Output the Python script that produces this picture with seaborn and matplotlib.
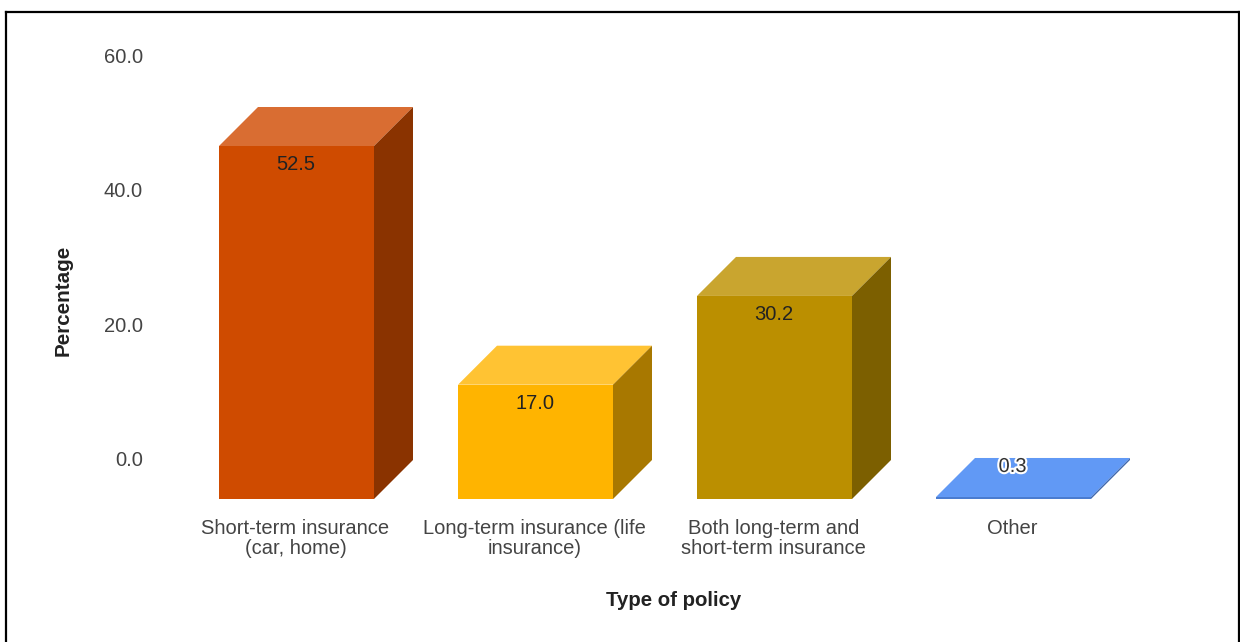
import matplotlib
matplotlib.use("Agg")
import matplotlib.pyplot as plt
import matplotlib.patheffects as pe
from matplotlib.lines import Line2D
from matplotlib.patches import Polygon
from matplotlib.transforms import ScaledTranslation
import pandas as pd
import seaborn as sns

categories = ["Short-term insurance\n(car, home)", "Long-term insurance (life\ninsurance)",
              "Both long-term and\nshort-term insurance", "Other"]
values = [52.5, 17.0, 30.2, 0.3]
value_labels = ["52.5", "17.0", "30.2", "0.3"]
front_colors = ["#CF4B00", "#FFB400", "#BB8F00", "#4A7CD0"]
top_colors = ["#D96D32", "#FFC333", "#C9A52F", "#6199F5"]
side_colors = ["#8A3300", "#A87800", "#7C5F00", "#3F68AE"]
y_ticks = [0, 20, 40, 60]

W, H = 1240, 642
FONT = "Liberation Sans"
FS = 14.5
plt.rcParams["font.family"] = [FONT, "DejaVu Sans"]
sns.set_style("white")
plt.rcParams["font.family"] = [FONT, "DejaVu Sans"]

fig = plt.figure(figsize=(W / 100, H / 100), dpi=100, facecolor="white")

# axes box in pixels
L, R, T, B = 150, 1180, 55, 499
ax = fig.add_axes([L / W, 1 - B / H, (R - L) / W, (B - T) / H])
px_per_unit = 353 / 52.5
px_per_cat = 239
depth_y = 39 / px_per_unit
depth_x = 39 / px_per_cat

df = pd.DataFrame({"cat": categories, "val": values})
sns.barplot(data=df, x="cat", y="val", hue="cat", palette=front_colors, legend=False,
            width=155 / 239, saturation=1, ax=ax, linewidth=0, zorder=3)

x0 = (296.5 - L) / px_per_cat
ax.set_xlim(-x0, -x0 + (R - L) / px_per_cat)
ax.set_ylim(-depth_y, -depth_y + (B - T) / px_per_unit)

for i, p in enumerate(ax.patches[:len(values)]):
    p.set_y(-depth_y)
    xl, xr = p.get_x(), p.get_x() + p.get_width()
    yb, yt = -depth_y, -depth_y + values[i]
    ax.add_patch(Polygon([(xl, yt), (xr, yt), (xr + depth_x, yt + depth_y), (xl + depth_x, yt + depth_y)],
                         closed=True, fc=top_colors[i], ec="none", zorder=3))
    ax.add_patch(Polygon([(xr, yb), (xr + depth_x, yb + depth_y), (xr + depth_x, yt + depth_y), (xr, yt)],
                         closed=True, fc=side_colors[i], ec="none", zorder=3))
    xc = (xl + xr) / 2
    if values[i] > 5:
        ax.annotate(value_labels[i], (xc, yt), xytext=(-0.7, -18.5 * 0.72), textcoords="offset points",
                    ha="center", va="center", fontsize=FS, color="#222222", zorder=5)
    else:
        ax.annotate(value_labels[i], (xc, yt + depth_y), xytext=(-0.7, -8.5 * 0.72), textcoords="offset points",
                    ha="center", va="center", fontsize=FS, color="#333333", zorder=5,
                    path_effects=[pe.withStroke(linewidth=3, foreground="white")])

ax.set_yticks(y_ticks)
ax.set_yticklabels([f"{v:.1f}" for v in y_ticks])
ax.tick_params(axis="y", length=0, pad=5, labelsize=FS, labelcolor="#444444")
ax.tick_params(axis="x", length=0, pad=14.3, labelsize=FS, labelcolor="#444444")
shift = ScaledTranslation(-1 / 100, 0, fig.dpi_scale_trans)
for lab in ax.get_xticklabels():
    lab.set_linespacing(1.1)
    lab.set_transform(lab.get_transform() + shift)
yshift = ScaledTranslation(0, 1.5 / 100, fig.dpi_scale_trans)
for lab in ax.get_yticklabels():
    lab.set_transform(lab.get_transform() + yshift)
for s in ax.spines.values():
    s.set_visible(False)
ax.patch.set_alpha(0)
ax.grid(False)

ax.set_xlabel("Type of policy", fontsize=14.7, fontweight="bold", color="#222222")
ax.xaxis.set_label_coords(673.5 / W, 1 - 600 / H, transform=fig.transFigure)
ax.xaxis.label.set_va("center")
ax.set_ylabel("Percentage", fontsize=14.9, fontweight="bold", color="#222222")
ax.yaxis.set_label_coords(63 / W, 1 - 300.5 / H, transform=fig.transFigure)
ax.yaxis.label.set_va("center")

# outer frame, open at the bottom
frame = [((6, 6), (642, 12)), ((6, 1239), (12, 12)), ((1239, 1239), (12, 642))]
for xs, ys in frame:
    fig.add_artist(Line2D([x / W for x in xs], [1 - y / H for y in ys], color="black", lw=1.6,
                          transform=fig.transFigure, solid_capstyle="projecting"))

fig.savefig("out.png", dpi=100, facecolor="white")
